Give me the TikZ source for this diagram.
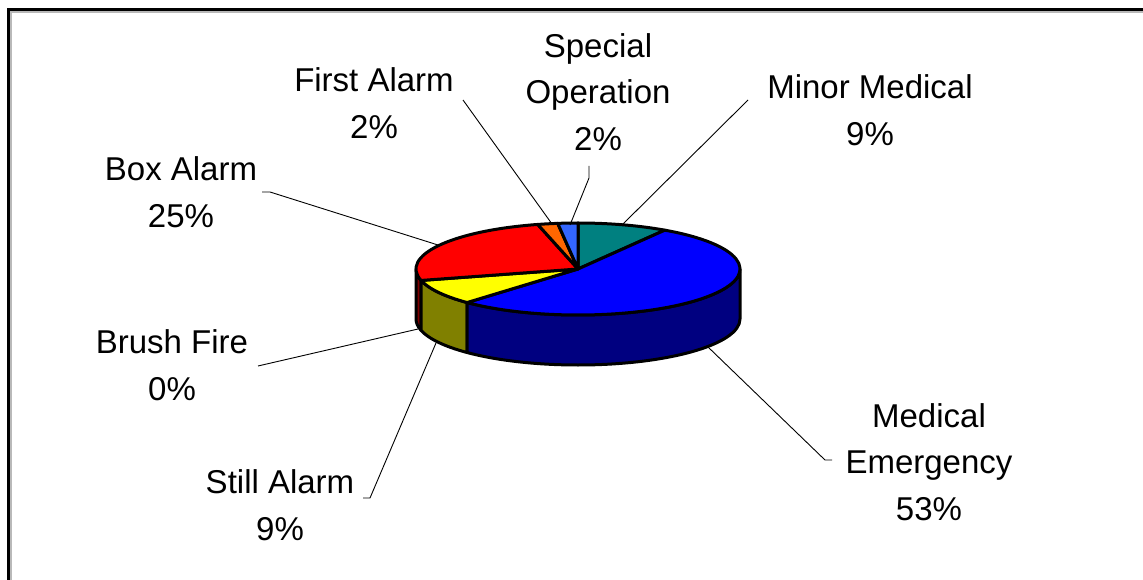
\documentclass[tikz,border=0pt]{standalone}
\usepackage{fontspec}
\setmainfont{Liberation Sans}
\definecolor{pieteal}{RGB}{0,128,128}
\definecolor{pieblue}{RGB}{0,0,255}
\definecolor{pieyellow}{RGB}{255,255,0}
\definecolor{piered}{RGB}{255,0,0}
\definecolor{pieorange}{RGB}{255,102,0}
\definecolor{pielight}{RGB}{51,102,255}
\definecolor{sidenavy}{RGB}{0,0,128}
\definecolor{sideolive}{RGB}{128,128,0}
\definecolor{sidered}{RGB}{128,0,0}
\tikzset{
  lbl/.style={align=center, inner sep=0pt, font=\fontsize{33}{46.5}\selectfont},
  lead/.style={draw, line width=0.9pt},
  slice/.style={draw, line width=3pt, line join=round}
}
\begin{document}
\begin{tikzpicture}[x=1pt,y=-1pt]
\useasboundingbox (0,0) rectangle (1143,580);
\clip (0,0) rectangle (1143,580);
\draw[gray!55, line width=1.2pt] (11,12) rectangle (1170,600);
\draw[line width=2.6pt] (8.5,9.5) rectangle (1160,600);
\begin{scope}[shift={(578,269)}, yscale=-1]
\path[slice, fill=sidered] (-180:162 and 46) arc[start angle=-180, end angle=-165.6, x radius=162, y radius=46] -- ++(0,-50) arc[start angle=-165.6, end angle=-180, x radius=162, y radius=46] -- cycle;
\path[slice, fill=sideolive] (-165.6:162 and 46) arc[start angle=-165.6, end angle=-133.2, x radius=162, y radius=46] -- ++(0,-50) arc[start angle=-133.2, end angle=-165.6, x radius=162, y radius=46] -- cycle;
\path[slice, fill=sidenavy] (-133.2:162 and 46) arc[start angle=-133.2, end angle=0, x radius=162, y radius=46] -- ++(0,-50) arc[start angle=0, end angle=-133.2, x radius=162, y radius=46] -- cycle;
\path[slice, fill=pieteal] (0,0) -- (90:162 and 46) arc[start angle=90, end angle=57.6, x radius=162, y radius=46] -- cycle;
\path[slice, fill=pieblue] (0,0) -- (57.6:162 and 46) arc[start angle=57.6, end angle=-133.2, x radius=162, y radius=46] -- cycle;
\path[slice, fill=pieyellow] (0,0) -- (-133.2:162 and 46) arc[start angle=-133.2, end angle=-165.6, x radius=162, y radius=46] -- cycle;
\path[slice, fill=piered] (0,0) -- (-165.6:162 and 46) arc[start angle=-165.6, end angle=-255.6, x radius=162, y radius=46] -- cycle;
\path[slice, fill=pieorange] (0,0) -- (-255.6:162 and 46) arc[start angle=-255.6, end angle=-262.8, x radius=162, y radius=46] -- cycle;
\path[slice, fill=pielight] (0,0) -- (-262.8:162 and 46) arc[start angle=-262.8, end angle=-270, x radius=162, y radius=46] -- cycle;
\end{scope}
\node[lbl] (minor) at (870,110) {Minor Medical\\9\%};
\node[lbl] (special) at (598,92) {Special\\Operation\\2\%};
\node[lbl] (first) at (374,103) {First Alarm\\2\%};
\node[lbl] (box) at (181,192) {Box Alarm\\25\%};
\node[lbl] (brush) at (172,365) {Brush Fire\\0\%};
\node[lbl] (still) at (280,505) {Still Alarm\\9\%};
\node[lbl] (medical) at (929,462) {Medical\\Emergency\\53\%};
\coordinate (minorpt) at (622,225);
\coordinate (specialpt) at (570,225);
\coordinate (firstpt) at (552,224);
\coordinate (boxpt) at (438,245);
\coordinate (brushpt) at (418,329);
\coordinate (stillpt) at (436,343);
\coordinate (medicalpt) at (708,347);
\path[lead] (minorpt) -- (748,100);
\path[lead] (specialpt) -- (589,178) -- (589,166);
\path[lead] (firstpt) -- (463,100);
\path[lead] (boxpt) -- (270,192) -- (262,192);
\path[lead] (brushpt) -- (258,366);
\path[lead] (stillpt) -- (370,498) -- (363,498);
\path[lead] (medicalpt) -- (825,460) -- (832,460);
\end{tikzpicture}
\end{document}
